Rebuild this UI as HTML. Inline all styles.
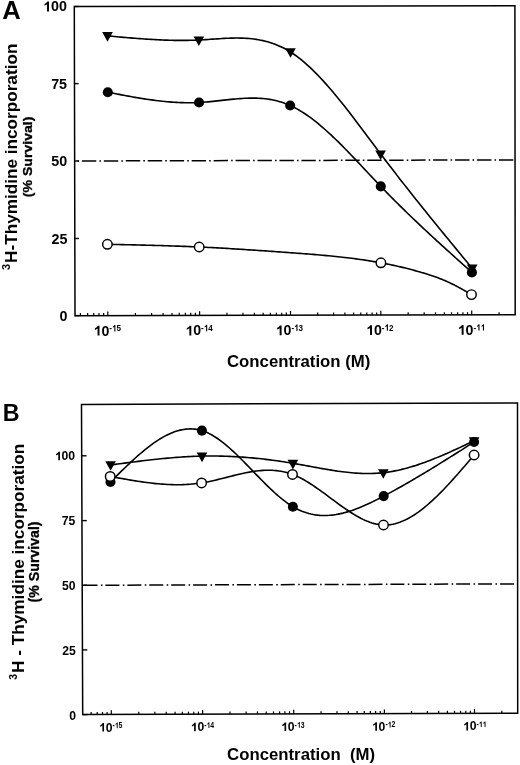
<!DOCTYPE html>
<html><head><meta charset="utf-8"><title>3H-Thymidine incorporation</title>
<style>html,body{margin:0;padding:0;background:#fff;width:520px;height:765px;overflow:hidden}
text{font-family:"Liberation Sans",sans-serif;font-weight:bold;font-kerning:none}
svg{will-change:transform}</style></head>
<body>
<svg width="520" height="765" viewBox="0 0 520 765" style="position:absolute;left:0;top:0;font-family:'Liberation Sans', sans-serif;font-weight:bold;fill:#000">
<rect width="520" height="765" fill="#fff"/>
<path d="M74.3 6.6 L514.9 5.7 L515.2 314.7 L75 315.7 Z" fill="none" stroke="#000" stroke-width="1.5" stroke-linejoin="miter"/>
<line x1="74.3" y1="6.5" x2="78.5" y2="6.5" stroke="#000" stroke-width="1.4"/>
<line x1="74.47" y1="83.6" x2="78.67" y2="83.6" stroke="#000" stroke-width="1.4"/>
<line x1="74.65" y1="161" x2="78.85" y2="161" stroke="#000" stroke-width="1.4"/>
<line x1="74.83" y1="238.5" x2="79.03" y2="238.5" stroke="#000" stroke-width="1.4"/>
<line x1="75" y1="315.6" x2="79.2" y2="315.6" stroke="#000" stroke-width="1.4"/>
<line x1="80.41" y1="315.69" x2="80.41" y2="313.09" stroke="#000" stroke-width="1.2"/>
<line x1="87.62" y1="315.67" x2="87.62" y2="313.07" stroke="#000" stroke-width="1.2"/>
<line x1="93.71" y1="315.66" x2="93.71" y2="313.06" stroke="#000" stroke-width="1.2"/>
<line x1="98.98" y1="315.65" x2="98.98" y2="313.05" stroke="#000" stroke-width="1.2"/>
<line x1="103.64" y1="315.63" x2="103.64" y2="313.03" stroke="#000" stroke-width="1.2"/>
<line x1="107.8" y1="315.63" x2="107.8" y2="311.43" stroke="#000" stroke-width="1.2"/>
<line x1="135.43" y1="315.56" x2="135.43" y2="312.96" stroke="#000" stroke-width="1.2"/>
<line x1="151.6" y1="315.53" x2="151.6" y2="312.93" stroke="#000" stroke-width="1.2"/>
<line x1="163.07" y1="315.5" x2="163.07" y2="312.9" stroke="#000" stroke-width="1.2"/>
<line x1="171.97" y1="315.48" x2="171.97" y2="312.88" stroke="#000" stroke-width="1.2"/>
<line x1="179.23" y1="315.46" x2="179.23" y2="312.86" stroke="#000" stroke-width="1.2"/>
<line x1="185.38" y1="315.45" x2="185.38" y2="312.85" stroke="#000" stroke-width="1.2"/>
<line x1="190.7" y1="315.44" x2="190.7" y2="312.84" stroke="#000" stroke-width="1.2"/>
<line x1="195.4" y1="315.43" x2="195.4" y2="312.83" stroke="#000" stroke-width="1.2"/>
<line x1="199.6" y1="315.42" x2="199.6" y2="311.22" stroke="#000" stroke-width="1.2"/>
<line x1="226.96" y1="315.35" x2="226.96" y2="312.75" stroke="#000" stroke-width="1.2"/>
<line x1="242.97" y1="315.32" x2="242.97" y2="312.72" stroke="#000" stroke-width="1.2"/>
<line x1="254.33" y1="315.29" x2="254.33" y2="312.69" stroke="#000" stroke-width="1.2"/>
<line x1="263.14" y1="315.27" x2="263.14" y2="312.67" stroke="#000" stroke-width="1.2"/>
<line x1="270.33" y1="315.26" x2="270.33" y2="312.66" stroke="#000" stroke-width="1.2"/>
<line x1="276.42" y1="315.24" x2="276.42" y2="312.64" stroke="#000" stroke-width="1.2"/>
<line x1="281.69" y1="315.23" x2="281.69" y2="312.63" stroke="#000" stroke-width="1.2"/>
<line x1="286.34" y1="315.22" x2="286.34" y2="312.62" stroke="#000" stroke-width="1.2"/>
<line x1="290.5" y1="315.21" x2="290.5" y2="311.01" stroke="#000" stroke-width="1.2"/>
<line x1="317.68" y1="315.15" x2="317.68" y2="312.55" stroke="#000" stroke-width="1.2"/>
<line x1="333.58" y1="315.11" x2="333.58" y2="312.51" stroke="#000" stroke-width="1.2"/>
<line x1="344.87" y1="315.09" x2="344.87" y2="312.49" stroke="#000" stroke-width="1.2"/>
<line x1="353.62" y1="315.07" x2="353.62" y2="312.47" stroke="#000" stroke-width="1.2"/>
<line x1="360.77" y1="315.05" x2="360.77" y2="312.45" stroke="#000" stroke-width="1.2"/>
<line x1="366.81" y1="315.04" x2="366.81" y2="312.44" stroke="#000" stroke-width="1.2"/>
<line x1="372.05" y1="315.03" x2="372.05" y2="312.43" stroke="#000" stroke-width="1.2"/>
<line x1="376.67" y1="315.01" x2="376.67" y2="312.41" stroke="#000" stroke-width="1.2"/>
<line x1="380.8" y1="315.01" x2="380.8" y2="310.81" stroke="#000" stroke-width="1.2"/>
<line x1="408.16" y1="314.94" x2="408.16" y2="312.34" stroke="#000" stroke-width="1.2"/>
<line x1="424.17" y1="314.91" x2="424.17" y2="312.31" stroke="#000" stroke-width="1.2"/>
<line x1="435.53" y1="314.88" x2="435.53" y2="312.28" stroke="#000" stroke-width="1.2"/>
<line x1="444.34" y1="314.86" x2="444.34" y2="312.26" stroke="#000" stroke-width="1.2"/>
<line x1="451.53" y1="314.84" x2="451.53" y2="312.24" stroke="#000" stroke-width="1.2"/>
<line x1="457.62" y1="314.83" x2="457.62" y2="312.23" stroke="#000" stroke-width="1.2"/>
<line x1="462.89" y1="314.82" x2="462.89" y2="312.22" stroke="#000" stroke-width="1.2"/>
<line x1="467.54" y1="314.81" x2="467.54" y2="312.21" stroke="#000" stroke-width="1.2"/>
<line x1="471.7" y1="314.8" x2="471.7" y2="310.6" stroke="#000" stroke-width="1.2"/>
<line x1="499.09" y1="314.74" x2="499.09" y2="312.14" stroke="#000" stroke-width="1.2"/>
<line x1="75" y1="161" x2="514.9" y2="159.9" stroke="#000" stroke-width="1.5" stroke-dasharray="14.4 3.1 1.6 2.85" stroke-dashoffset="-6.9"/>
<path d="M107.6 35.9 L109.88 36.11 L112.17 36.32 L114.45 36.53 L116.74 36.73 L119.02 36.94 L121.31 37.14 L123.59 37.34 L125.88 37.54 L128.16 37.73 L130.45 37.92 L132.73 38.11 L135.02 38.29 L137.31 38.47 L139.59 38.64 L141.88 38.81 L144.16 38.97 L146.44 39.13 L148.73 39.27 L151.01 39.41 L153.3 39.55 L155.58 39.67 L157.87 39.79 L160.16 39.9 L162.44 40 L164.72 40.09 L167.01 40.16 L169.3 40.23 L171.58 40.29 L173.87 40.34 L176.15 40.37 L178.44 40.4 L180.72 40.41 L183 40.4 L185.29 40.39 L187.57 40.36 L189.86 40.32 L192.14 40.26 L194.43 40.19 L196.72 40.1 L199 40 L201.29 39.88 L203.57 39.75 L205.86 39.61 L208.15 39.46 L210.44 39.3 L212.72 39.15 L215.01 38.99 L217.3 38.84 L219.59 38.69 L221.88 38.55 L224.16 38.42 L226.45 38.31 L228.74 38.21 L231.03 38.14 L233.31 38.08 L235.6 38.05 L237.89 38.05 L240.18 38.08 L242.46 38.14 L244.75 38.24 L247.04 38.38 L249.32 38.56 L251.61 38.78 L253.9 39.05 L256.19 39.37 L258.48 39.74 L260.76 40.17 L263.05 40.65 L265.34 41.2 L267.62 41.81 L269.91 42.49 L272.2 43.23 L274.49 44.05 L276.77 44.94 L279.06 45.91 L281.35 46.95 L283.64 48.08 L285.93 49.3 L288.21 50.6 L290.5 52 L292.75 53.47 L295.01 55.02 L297.26 56.66 L299.52 58.38 L301.77 60.19 L304.03 62.07 L306.29 64.03 L308.54 66.06 L310.8 68.16 L313.05 70.33 L315.31 72.56 L317.56 74.86 L319.81 77.21 L322.07 79.63 L324.32 82.09 L326.58 84.61 L328.83 87.18 L331.09 89.8 L333.35 92.46 L335.6 95.16 L337.86 97.9 L340.11 100.68 L342.37 103.49 L344.62 106.34 L346.88 109.21 L349.13 112.11 L351.38 115.03 L353.64 117.98 L355.89 120.94 L358.15 123.92 L360.4 126.91 L362.66 129.91 L364.91 132.92 L367.17 135.94 L369.43 138.95 L371.68 141.97 L373.94 144.99 L376.19 148 L378.44 151.01 L380.7 154 L383.04 157.09 L385.38 160.17 L387.72 163.24 L390.05 166.29 L392.39 169.33 L394.73 172.36 L397.07 175.38 L399.41 178.39 L401.75 181.39 L404.08 184.37 L406.42 187.35 L408.76 190.31 L411.1 193.27 L413.44 196.22 L415.78 199.16 L418.12 202.09 L420.45 205.01 L422.79 207.93 L425.13 210.84 L427.47 213.74 L429.81 216.63 L432.15 219.52 L434.48 222.4 L436.82 225.28 L439.16 228.15 L441.5 231.02 L443.84 233.88 L446.18 236.74 L448.52 239.59 L450.85 242.44 L453.19 245.29 L455.53 248.13 L457.87 250.98 L460.21 253.82 L462.55 256.66 L464.88 259.49 L467.22 262.33 L469.56 265.16 L471.9 268" fill="none" stroke="#000" stroke-width="1.6" stroke-linejoin="round"/>
<path d="M107.8 92.2 L110.08 92.64 L112.36 93.09 L114.64 93.53 L116.92 93.97 L119.21 94.41 L121.49 94.84 L123.77 95.27 L126.05 95.7 L128.33 96.12 L130.61 96.53 L132.89 96.94 L135.18 97.34 L137.46 97.73 L139.74 98.11 L142.02 98.48 L144.3 98.84 L146.58 99.19 L148.86 99.53 L151.14 99.85 L153.43 100.16 L155.71 100.46 L157.99 100.74 L160.27 101.01 L162.55 101.26 L164.83 101.49 L167.11 101.71 L169.39 101.91 L171.68 102.09 L173.96 102.25 L176.24 102.38 L178.52 102.5 L180.8 102.6 L183.08 102.67 L185.36 102.72 L187.64 102.75 L189.93 102.75 L192.21 102.73 L194.49 102.68 L196.77 102.6 L199.05 102.5 L201.33 102.37 L203.61 102.21 L205.89 102.03 L208.17 101.84 L210.44 101.62 L212.72 101.39 L215 101.15 L217.28 100.91 L219.56 100.65 L221.84 100.4 L224.12 100.14 L226.4 99.89 L228.67 99.64 L230.95 99.4 L233.23 99.17 L235.51 98.96 L237.79 98.77 L240.07 98.59 L242.35 98.44 L244.62 98.31 L246.9 98.21 L249.18 98.15 L251.46 98.11 L253.74 98.12 L256.02 98.16 L258.3 98.25 L260.58 98.38 L262.86 98.56 L265.13 98.79 L267.41 99.07 L269.69 99.41 L271.97 99.81 L274.25 100.28 L276.53 100.8 L278.81 101.4 L281.08 102.07 L283.36 102.81 L285.64 103.63 L287.92 104.52 L290.2 105.5 L292.46 106.56 L294.73 107.69 L297 108.91 L299.26 110.2 L301.52 111.57 L303.79 113.01 L306.06 114.51 L308.32 116.09 L310.58 117.72 L312.85 119.42 L315.12 121.18 L317.38 122.99 L319.64 124.86 L321.91 126.77 L324.18 128.74 L326.44 130.75 L328.7 132.81 L330.97 134.91 L333.24 137.05 L335.5 139.22 L337.76 141.42 L340.03 143.66 L342.3 145.93 L344.56 148.22 L346.82 150.54 L349.09 152.87 L351.36 155.23 L353.62 157.6 L355.88 159.99 L358.15 162.38 L360.42 164.79 L362.68 167.2 L364.94 169.61 L367.21 172.03 L369.48 174.44 L371.74 176.85 L374 179.25 L376.27 181.65 L378.54 184.03 L380.8 186.4 L383.14 188.83 L385.47 191.23 L387.81 193.63 L390.14 196 L392.48 198.36 L394.82 200.71 L397.15 203.04 L399.49 205.35 L401.82 207.65 L404.16 209.94 L406.49 212.21 L408.83 214.47 L411.17 216.72 L413.5 218.96 L415.84 221.19 L418.17 223.4 L420.51 225.61 L422.85 227.8 L425.18 229.99 L427.52 232.16 L429.85 234.33 L432.19 236.49 L434.53 238.64 L436.86 240.79 L439.2 242.93 L441.53 245.06 L443.87 247.18 L446.21 249.31 L448.54 251.42 L450.88 253.53 L453.21 255.64 L455.55 257.74 L457.88 259.84 L460.22 261.94 L462.56 264.03 L464.89 266.13 L467.23 268.22 L469.56 270.31 L471.9 272.4" fill="none" stroke="#000" stroke-width="1.6" stroke-linejoin="round"/>
<path d="M107.4 244.3 L109.7 244.35 L111.99 244.4 L114.28 244.45 L116.58 244.5 L118.88 244.55 L121.17 244.6 L123.47 244.65 L125.76 244.7 L128.06 244.75 L130.35 244.8 L132.65 244.86 L134.94 244.91 L137.24 244.96 L139.53 245.02 L141.82 245.08 L144.12 245.13 L146.41 245.19 L148.71 245.25 L151 245.31 L153.3 245.37 L155.59 245.44 L157.89 245.5 L160.19 245.57 L162.48 245.64 L164.77 245.71 L167.07 245.78 L169.37 245.85 L171.66 245.93 L173.95 246 L176.25 246.08 L178.54 246.17 L180.84 246.25 L183.13 246.33 L185.43 246.42 L187.72 246.51 L190.02 246.6 L192.31 246.7 L194.61 246.8 L196.9 246.9 L199.2 247 L201.48 247.1 L203.76 247.21 L206.04 247.32 L208.32 247.44 L210.6 247.55 L212.88 247.67 L215.16 247.79 L217.44 247.91 L219.72 248.04 L222 248.16 L224.28 248.29 L226.56 248.42 L228.84 248.56 L231.12 248.69 L233.4 248.83 L235.68 248.97 L237.96 249.11 L240.24 249.25 L242.52 249.39 L244.8 249.54 L247.08 249.69 L249.36 249.83 L251.64 249.98 L253.92 250.14 L256.2 250.29 L258.48 250.44 L260.76 250.6 L263.04 250.75 L265.32 250.91 L267.6 251.07 L269.88 251.23 L272.16 251.39 L274.44 251.55 L276.72 251.71 L279 251.88 L281.28 252.04 L283.56 252.2 L285.84 252.37 L288.12 252.53 L290.4 252.7 L292.66 252.86 L294.92 253.03 L297.19 253.2 L299.45 253.37 L301.71 253.53 L303.97 253.71 L306.24 253.88 L308.5 254.06 L310.76 254.23 L313.02 254.42 L315.29 254.6 L317.55 254.79 L319.81 254.98 L322.07 255.18 L324.34 255.38 L326.6 255.59 L328.86 255.8 L331.12 256.02 L333.39 256.24 L335.65 256.47 L337.91 256.71 L340.17 256.95 L342.44 257.2 L344.7 257.46 L346.96 257.72 L349.22 257.99 L351.49 258.27 L353.75 258.56 L356.01 258.86 L358.27 259.17 L360.54 259.48 L362.8 259.81 L365.06 260.14 L367.32 260.49 L369.59 260.85 L371.85 261.21 L374.11 261.59 L376.38 261.98 L378.64 262.39 L380.9 262.8 L381.88 262.98 L382.85 263.17 L383.83 263.36 L384.81 263.54 L385.79 263.74 L386.76 263.93 L387.74 264.13 L388.72 264.33 L389.7 264.53 L390.67 264.73 L391.65 264.94 L392.63 265.15 L393.61 265.36 L394.58 265.57 L395.56 265.79 L396.54 266.01 L397.52 266.23 L398.5 266.45 L399.47 266.68 L400.45 266.9 L401.43 267.14 L402.4 267.37 L403.38 267.6 L404.36 267.84 L405.34 268.08 L406.31 268.33 L407.29 268.57 L408.27 268.82 L409.25 269.07 L410.23 269.32 L411.2 269.58 L412.18 269.84 L413.16 270.1 L414.13 270.36 L415.11 270.63 L416.09 270.9 L417.07 271.17 L418.05 271.44 L419.02 271.72 L420 272 L420.75 272.22 L421.5 272.43 L422.25 272.65 L423 272.87 L423.75 273.1 L424.5 273.32 L425.25 273.55 L426 273.78 L426.75 274.01 L427.5 274.25 L428.25 274.48 L429 274.72 L429.75 274.97 L430.5 275.21 L431.25 275.46 L432 275.71 L432.75 275.96 L433.5 276.22 L434.25 276.48 L435 276.75 L435.75 277.02 L436.5 277.29 L437.25 277.56 L438 277.84 L438.75 278.12 L439.5 278.41 L440.25 278.7 L441 279 L441.75 279.3 L442.5 279.6 L443.25 279.91 L444 280.22 L444.75 280.54 L445.5 280.86 L446.25 281.19 L447 281.52 L447.75 281.86 L448.5 282.2 L449.25 282.55 L450 282.9 L450.55 283.16 L451.1 283.43 L451.65 283.7 L452.21 283.97 L452.76 284.24 L453.31 284.52 L453.86 284.8 L454.41 285.08 L454.96 285.36 L455.51 285.65 L456.06 285.94 L456.62 286.23 L457.17 286.52 L457.72 286.82 L458.27 287.11 L458.82 287.41 L459.37 287.71 L459.92 288.01 L460.47 288.32 L461.03 288.62 L461.58 288.93 L462.13 289.24 L462.68 289.54 L463.23 289.85 L463.78 290.17 L464.33 290.48 L464.88 290.79 L465.44 291.11 L465.99 291.42 L466.54 291.74 L467.09 292.05 L467.64 292.37 L468.19 292.69 L468.74 293.01 L469.29 293.32 L469.85 293.64 L470.4 293.96 L470.95 294.28 L471.5 294.6" fill="none" stroke="#000" stroke-width="1.6" stroke-linejoin="round"/>
<path d="M102.2 32.1 L112.8 32.1 L107.5 41.7 Z" fill="#000"/>
<path d="M193.55 36.4 L204.15 36.4 L198.85 46 Z" fill="#000"/>
<path d="M285.2 48.2 L295.8 48.2 L290.5 57.8 Z" fill="#000"/>
<path d="M375.3 150.4 L385.9 150.4 L380.6 160 Z" fill="#000"/>
<path d="M466.9 264.4 L477.5 264.4 L472.2 274 Z" fill="#000"/>
<circle cx="107.8" cy="92.2" r="5.05" fill="#000"/>
<circle cx="199.05" cy="102.5" r="5.05" fill="#000"/>
<circle cx="290.2" cy="105.5" r="5.05" fill="#000"/>
<circle cx="380.8" cy="186.4" r="5.05" fill="#000"/>
<circle cx="471.9" cy="272.4" r="5.05" fill="#000"/>
<circle cx="107.4" cy="244.3" r="4.75" fill="#fff" stroke="#000" stroke-width="1.45"/>
<circle cx="199.2" cy="247" r="4.75" fill="#fff" stroke="#000" stroke-width="1.45"/>
<circle cx="380.9" cy="262.8" r="4.75" fill="#fff" stroke="#000" stroke-width="1.45"/>
<circle cx="471.5" cy="294.6" r="4.75" fill="#fff" stroke="#000" stroke-width="1.45"/>
<path d="M81.5 404.4 L517.5 403 L517.7 713.2 L82.7 714.6 Z" fill="none" stroke="#000" stroke-width="1.5" stroke-linejoin="miter"/>
<line x1="81.7" y1="455.8" x2="86.5" y2="455.8" stroke="#000" stroke-width="1.4"/>
<line x1="81.95" y1="520.6" x2="86.75" y2="520.6" stroke="#000" stroke-width="1.4"/>
<line x1="82.2" y1="585.3" x2="87" y2="585.3" stroke="#000" stroke-width="1.4"/>
<line x1="82.45" y1="649.9" x2="87.25" y2="649.9" stroke="#000" stroke-width="1.4"/>
<line x1="82.7" y1="714.6" x2="87.5" y2="714.6" stroke="#000" stroke-width="1.4"/>
<line x1="91.16" y1="714.57" x2="91.16" y2="711.97" stroke="#000" stroke-width="1.2"/>
<line x1="97.23" y1="714.55" x2="97.23" y2="711.95" stroke="#000" stroke-width="1.2"/>
<line x1="102.5" y1="714.54" x2="102.5" y2="711.94" stroke="#000" stroke-width="1.2"/>
<line x1="107.15" y1="714.52" x2="107.15" y2="711.92" stroke="#000" stroke-width="1.2"/>
<line x1="111.3" y1="714.51" x2="111.3" y2="710.31" stroke="#000" stroke-width="1.2"/>
<line x1="138.78" y1="714.42" x2="138.78" y2="711.82" stroke="#000" stroke-width="1.2"/>
<line x1="154.86" y1="714.37" x2="154.86" y2="711.77" stroke="#000" stroke-width="1.2"/>
<line x1="166.27" y1="714.33" x2="166.27" y2="711.73" stroke="#000" stroke-width="1.2"/>
<line x1="175.12" y1="714.3" x2="175.12" y2="711.7" stroke="#000" stroke-width="1.2"/>
<line x1="182.35" y1="714.28" x2="182.35" y2="711.68" stroke="#000" stroke-width="1.2"/>
<line x1="188.46" y1="714.26" x2="188.46" y2="711.66" stroke="#000" stroke-width="1.2"/>
<line x1="193.75" y1="714.24" x2="193.75" y2="711.64" stroke="#000" stroke-width="1.2"/>
<line x1="198.42" y1="714.23" x2="198.42" y2="711.63" stroke="#000" stroke-width="1.2"/>
<line x1="202.6" y1="714.21" x2="202.6" y2="710.01" stroke="#000" stroke-width="1.2"/>
<line x1="230.02" y1="714.13" x2="230.02" y2="711.53" stroke="#000" stroke-width="1.2"/>
<line x1="246.07" y1="714.07" x2="246.07" y2="711.47" stroke="#000" stroke-width="1.2"/>
<line x1="257.45" y1="714.04" x2="257.45" y2="711.44" stroke="#000" stroke-width="1.2"/>
<line x1="266.28" y1="714.01" x2="266.28" y2="711.41" stroke="#000" stroke-width="1.2"/>
<line x1="273.49" y1="713.99" x2="273.49" y2="711.39" stroke="#000" stroke-width="1.2"/>
<line x1="279.59" y1="713.97" x2="279.59" y2="711.37" stroke="#000" stroke-width="1.2"/>
<line x1="284.87" y1="713.95" x2="284.87" y2="711.35" stroke="#000" stroke-width="1.2"/>
<line x1="289.53" y1="713.93" x2="289.53" y2="711.33" stroke="#000" stroke-width="1.2"/>
<line x1="293.7" y1="713.92" x2="293.7" y2="709.72" stroke="#000" stroke-width="1.2"/>
<line x1="321" y1="713.83" x2="321" y2="711.23" stroke="#000" stroke-width="1.2"/>
<line x1="336.97" y1="713.78" x2="336.97" y2="711.18" stroke="#000" stroke-width="1.2"/>
<line x1="348.31" y1="713.75" x2="348.31" y2="711.15" stroke="#000" stroke-width="1.2"/>
<line x1="357.1" y1="713.72" x2="357.1" y2="711.12" stroke="#000" stroke-width="1.2"/>
<line x1="364.28" y1="713.69" x2="364.28" y2="711.09" stroke="#000" stroke-width="1.2"/>
<line x1="370.35" y1="713.67" x2="370.35" y2="711.07" stroke="#000" stroke-width="1.2"/>
<line x1="375.61" y1="713.66" x2="375.61" y2="711.06" stroke="#000" stroke-width="1.2"/>
<line x1="380.25" y1="713.64" x2="380.25" y2="711.04" stroke="#000" stroke-width="1.2"/>
<line x1="384.4" y1="713.63" x2="384.4" y2="709.43" stroke="#000" stroke-width="1.2"/>
<line x1="411.52" y1="713.54" x2="411.52" y2="710.94" stroke="#000" stroke-width="1.2"/>
<line x1="427.39" y1="713.49" x2="427.39" y2="710.89" stroke="#000" stroke-width="1.2"/>
<line x1="438.65" y1="713.45" x2="438.65" y2="710.85" stroke="#000" stroke-width="1.2"/>
<line x1="447.38" y1="713.43" x2="447.38" y2="710.83" stroke="#000" stroke-width="1.2"/>
<line x1="454.51" y1="713.4" x2="454.51" y2="710.8" stroke="#000" stroke-width="1.2"/>
<line x1="460.54" y1="713.38" x2="460.54" y2="710.78" stroke="#000" stroke-width="1.2"/>
<line x1="465.77" y1="713.37" x2="465.77" y2="710.77" stroke="#000" stroke-width="1.2"/>
<line x1="470.38" y1="713.35" x2="470.38" y2="710.75" stroke="#000" stroke-width="1.2"/>
<line x1="474.5" y1="713.34" x2="474.5" y2="709.14" stroke="#000" stroke-width="1.2"/>
<line x1="501.83" y1="713.25" x2="501.83" y2="710.65" stroke="#000" stroke-width="1.2"/>
<line x1="82.5" y1="585.3" x2="517.5" y2="583.9" stroke="#000" stroke-width="1.5" stroke-dasharray="14.0 3.4 1.6 2.92" stroke-dashoffset="-1"/>
<path d="M110.6 465 L112.88 464.69 L115.17 464.38 L117.45 464.08 L119.74 463.77 L122.02 463.47 L124.31 463.16 L126.59 462.86 L128.88 462.56 L131.16 462.27 L133.45 461.97 L135.73 461.68 L138.02 461.39 L140.31 461.11 L142.59 460.83 L144.88 460.56 L147.16 460.29 L149.44 460.02 L151.73 459.77 L154.01 459.51 L156.3 459.26 L158.58 459.02 L160.87 458.79 L163.16 458.56 L165.44 458.34 L167.72 458.13 L170.01 457.93 L172.3 457.73 L174.58 457.55 L176.87 457.37 L179.15 457.2 L181.44 457.04 L183.72 456.89 L186 456.75 L188.29 456.63 L190.57 456.51 L192.86 456.4 L195.14 456.31 L197.43 456.23 L199.72 456.16 L202 456.1 L204.27 456.06 L206.54 456.02 L208.82 456 L211.09 456 L213.36 456 L215.63 456.02 L217.91 456.05 L220.18 456.09 L222.45 456.15 L224.72 456.21 L227 456.29 L229.27 456.38 L231.54 456.48 L233.81 456.59 L236.09 456.72 L238.36 456.85 L240.63 457 L242.91 457.16 L245.18 457.33 L247.45 457.51 L249.72 457.7 L252 457.9 L254.27 458.11 L256.54 458.34 L258.81 458.57 L261.08 458.82 L263.36 459.07 L265.63 459.34 L267.9 459.61 L270.17 459.9 L272.45 460.2 L274.72 460.5 L276.99 460.82 L279.26 461.14 L281.54 461.48 L283.81 461.82 L286.08 462.18 L288.35 462.54 L290.63 462.92 L292.9 463.3 L295.16 463.69 L297.42 464.09 L299.68 464.49 L301.94 464.9 L304.2 465.31 L306.46 465.73 L308.72 466.15 L310.98 466.57 L313.24 466.99 L315.5 467.4 L317.76 467.81 L320.02 468.22 L322.28 468.62 L324.54 469.02 L326.8 469.4 L329.06 469.78 L331.32 470.15 L333.58 470.5 L335.84 470.84 L338.1 471.17 L340.36 471.48 L342.62 471.77 L344.88 472.04 L347.14 472.3 L349.4 472.53 L351.66 472.75 L353.92 472.93 L356.18 473.1 L358.44 473.24 L360.7 473.35 L362.96 473.43 L365.22 473.49 L367.48 473.51 L369.74 473.5 L372 473.46 L374.26 473.38 L376.52 473.27 L378.78 473.12 L381.04 472.93 L383.3 472.7 L385.63 472.42 L387.96 472.1 L390.28 471.74 L392.61 471.34 L394.94 470.91 L397.27 470.43 L399.6 469.92 L401.93 469.37 L404.25 468.78 L406.58 468.17 L408.91 467.52 L411.24 466.84 L413.57 466.13 L415.89 465.39 L418.22 464.62 L420.55 463.83 L422.88 463.01 L425.21 462.17 L427.54 461.3 L429.86 460.42 L432.19 459.51 L434.52 458.58 L436.85 457.63 L439.18 456.66 L441.51 455.68 L443.83 454.68 L446.16 453.67 L448.49 452.65 L450.82 451.61 L453.15 450.56 L455.47 449.5 L457.8 448.43 L460.13 447.36 L462.46 446.27 L464.79 445.19 L467.12 444.09 L469.44 443 L471.77 441.9 L474.1 440.8" fill="none" stroke="#000" stroke-width="1.6" stroke-linejoin="round"/>
<path d="M110.5 482 L112.78 479.72 L115.07 477.45 L117.36 475.18 L119.64 472.92 L121.92 470.68 L124.21 468.46 L126.5 466.26 L128.78 464.08 L131.06 461.94 L133.35 459.83 L135.63 457.76 L137.92 455.72 L140.21 453.74 L142.49 451.8 L144.78 449.91 L147.06 448.08 L149.34 446.31 L151.63 444.6 L153.92 442.96 L156.2 441.39 L158.49 439.89 L160.77 438.47 L163.06 437.14 L165.34 435.89 L167.62 434.73 L169.91 433.66 L172.19 432.69 L174.48 431.82 L176.76 431.06 L179.05 430.4 L181.34 429.86 L183.62 429.43 L185.91 429.12 L188.19 428.93 L190.48 428.87 L192.76 428.94 L195.05 429.14 L197.33 429.49 L199.62 429.97 L201.9 430.6 L204.18 431.37 L206.45 432.29 L208.72 433.34 L211 434.51 L213.28 435.81 L215.55 437.23 L217.82 438.75 L220.1 440.37 L222.38 442.09 L224.65 443.9 L226.93 445.79 L229.2 447.75 L231.47 449.78 L233.75 451.88 L236.03 454.03 L238.3 456.23 L240.57 458.48 L242.85 460.76 L245.12 463.07 L247.4 465.4 L249.68 467.75 L251.95 470.1 L254.22 472.46 L256.5 474.82 L258.77 477.17 L261.05 479.5 L263.32 481.81 L265.6 484.08 L267.88 486.33 L270.15 488.52 L272.42 490.67 L274.7 492.77 L276.98 494.8 L279.25 496.76 L281.52 498.64 L283.8 500.44 L286.07 502.16 L288.35 503.78 L290.62 505.29 L292.9 506.7 L295.17 507.99 L297.44 509.17 L299.71 510.24 L301.98 511.2 L304.25 512.06 L306.52 512.81 L308.79 513.47 L311.06 514.03 L313.33 514.49 L315.6 514.86 L317.87 515.15 L320.14 515.35 L322.41 515.46 L324.68 515.49 L326.95 515.44 L329.22 515.32 L331.49 515.12 L333.76 514.85 L336.03 514.52 L338.3 514.11 L340.57 513.65 L342.84 513.12 L345.11 512.53 L347.38 511.89 L349.65 511.19 L351.92 510.45 L354.19 509.65 L356.46 508.81 L358.73 507.93 L361 507 L363.27 506.04 L365.54 505.04 L367.81 504.01 L370.08 502.95 L372.35 501.87 L374.62 500.75 L376.89 499.62 L379.16 498.46 L381.43 497.29 L383.7 496.1 L386.02 494.87 L388.34 493.63 L390.65 492.38 L392.97 491.12 L395.29 489.85 L397.61 488.56 L399.93 487.26 L402.24 485.96 L404.56 484.64 L406.88 483.31 L409.2 481.98 L411.52 480.63 L413.83 479.27 L416.15 477.91 L418.47 476.54 L420.79 475.16 L423.11 473.77 L425.42 472.38 L427.74 470.98 L430.06 469.57 L432.38 468.15 L434.69 466.73 L437.01 465.31 L439.33 463.88 L441.65 462.44 L443.97 461 L446.28 459.55 L448.6 458.11 L450.92 456.65 L453.24 455.2 L455.56 453.74 L457.87 452.28 L460.19 450.81 L462.51 449.35 L464.83 447.88 L467.15 446.41 L469.46 444.94 L471.78 443.47 L474.1 442" fill="none" stroke="#000" stroke-width="1.6" stroke-linejoin="round"/>
<path d="M110.2 476.4 L112.48 476.82 L114.77 477.25 L117.06 477.67 L119.34 478.09 L121.62 478.5 L123.91 478.91 L126.19 479.31 L128.48 479.71 L130.76 480.1 L133.05 480.48 L135.34 480.85 L137.62 481.21 L139.91 481.56 L142.19 481.89 L144.47 482.21 L146.76 482.52 L149.04 482.81 L151.33 483.08 L153.62 483.34 L155.9 483.58 L158.19 483.79 L160.47 483.99 L162.75 484.17 L165.04 484.32 L167.32 484.45 L169.61 484.55 L171.89 484.63 L174.18 484.69 L176.46 484.71 L178.75 484.71 L181.03 484.68 L183.32 484.61 L185.6 484.52 L187.89 484.39 L190.18 484.23 L192.46 484.04 L194.75 483.81 L197.03 483.54 L199.31 483.24 L201.6 482.9 L203.87 482.52 L206.14 482.11 L208.42 481.66 L210.69 481.19 L212.96 480.69 L215.23 480.17 L217.51 479.63 L219.78 479.08 L222.05 478.52 L224.32 477.95 L226.6 477.37 L228.87 476.79 L231.14 476.22 L233.41 475.65 L235.69 475.09 L237.96 474.55 L240.23 474.02 L242.5 473.51 L244.78 473.03 L247.05 472.57 L249.32 472.14 L251.59 471.75 L253.87 471.39 L256.14 471.08 L258.41 470.81 L260.69 470.58 L262.96 470.41 L265.23 470.29 L267.5 470.23 L269.77 470.23 L272.05 470.3 L274.32 470.44 L276.59 470.64 L278.87 470.93 L281.14 471.29 L283.41 471.73 L285.68 472.26 L287.95 472.88 L290.23 473.59 L292.5 474.4 L294.77 475.31 L297.05 476.31 L299.32 477.4 L301.6 478.57 L303.88 479.81 L306.15 481.13 L308.43 482.51 L310.7 483.95 L312.98 485.44 L315.25 486.98 L317.52 488.55 L319.8 490.17 L322.07 491.81 L324.35 493.47 L326.62 495.15 L328.9 496.84 L331.18 498.53 L333.45 500.22 L335.73 501.91 L338 503.58 L340.27 505.23 L342.55 506.86 L344.82 508.45 L347.1 510.01 L349.38 511.52 L351.65 512.99 L353.93 514.4 L356.2 515.75 L358.48 517.03 L360.75 518.24 L363.02 519.37 L365.3 520.41 L367.57 521.37 L369.85 522.23 L372.12 522.98 L374.4 523.63 L376.68 524.16 L378.95 524.57 L381.23 524.85 L383.5 525 L385.82 525.01 L388.15 524.88 L390.47 524.62 L392.79 524.22 L395.12 523.69 L397.44 523.04 L399.76 522.26 L402.08 521.36 L404.41 520.35 L406.73 519.23 L409.05 518 L411.38 516.67 L413.7 515.24 L416.02 513.71 L418.35 512.09 L420.67 510.38 L422.99 508.58 L425.32 506.7 L427.64 504.75 L429.96 502.72 L432.28 500.62 L434.61 498.45 L436.93 496.22 L439.25 493.93 L441.58 491.59 L443.9 489.19 L446.22 486.75 L448.55 484.26 L450.87 481.73 L453.19 479.16 L455.52 476.56 L457.84 473.93 L460.16 471.27 L462.48 468.59 L464.81 465.9 L467.13 463.19 L469.45 460.46 L471.78 457.73 L474.1 455" fill="none" stroke="#000" stroke-width="1.6" stroke-linejoin="round"/>
<path d="M105.3 461.2 L115.9 461.2 L110.6 470.8 Z" fill="#000"/>
<path d="M196.7 452.6 L207.3 452.6 L202 462.2 Z" fill="#000"/>
<path d="M287.6 459.8 L298.2 459.8 L292.9 469.4 Z" fill="#000"/>
<path d="M378 469.2 L388.6 469.2 L383.3 478.8 Z" fill="#000"/>
<path d="M468.8 437.2 L479.4 437.2 L474.1 446.8 Z" fill="#000"/>
<circle cx="110.5" cy="482" r="5.05" fill="#000"/>
<circle cx="201.9" cy="430.6" r="5.05" fill="#000"/>
<circle cx="292.9" cy="506.7" r="5.05" fill="#000"/>
<circle cx="383.7" cy="496.1" r="5.05" fill="#000"/>
<circle cx="474.1" cy="442" r="5.05" fill="#000"/>
<circle cx="110.2" cy="476.4" r="4.75" fill="#fff" stroke="#000" stroke-width="1.45"/>
<circle cx="201.6" cy="482.9" r="4.75" fill="#fff" stroke="#000" stroke-width="1.45"/>
<circle cx="292.5" cy="474.4" r="4.75" fill="#fff" stroke="#000" stroke-width="1.45"/>
<circle cx="383.5" cy="525" r="4.75" fill="#fff" stroke="#000" stroke-width="1.45"/>
<circle cx="474.1" cy="455" r="4.75" fill="#fff" stroke="#000" stroke-width="1.45"/>
<text x="2.26" y="18.8" font-size="25.6" text-anchor="start" >A</text>
<text x="43" y="11.4" font-size="14.3"> 00</text>
<path d="M860 0L580 0L580 1018Q428 876 212 813L212 1058Q318 1093 442 1189Q566 1285 615 1409L860 1409Z" transform="translate(43 11.4) scale(0.006982 -0.006982)"/>
<text x="51.13" y="88.6" font-size="14.3">75</text>
<text x="51.31" y="165.9" font-size="14.3">50</text>
<text x="51.48" y="243.5" font-size="14.3">25</text>
<text x="59.62" y="320.9" font-size="14.3">0</text>
<text x="93.53" y="335.6" font-size="14.2"> 0</text>
<path d="M860 0L580 0L580 1018Q428 876 212 813L212 1058Q318 1093 442 1189Q566 1285 615 1409L860 1409Z" transform="translate(93.53 335.6) scale(0.006934 -0.006934)"/>
<text x="109.32" y="331.4" font-size="9.4" textLength="11.68" lengthAdjust="spacingAndGlyphs">- 5</text>
<path d="M860 0L580 0L580 1018Q428 876 212 813L212 1058Q318 1093 442 1189Q566 1285 615 1409L860 1409Z" transform="translate(112.02 331.4) scale(0.003947 -0.004590)"/>
<text x="185.33" y="335.4" font-size="14.2"> 0</text>
<path d="M860 0L580 0L580 1018Q428 876 212 813L212 1058Q318 1093 442 1189Q566 1285 615 1409L860 1409Z" transform="translate(185.33 335.4) scale(0.006934 -0.006934)"/>
<text x="201.12" y="331.2" font-size="9.4" textLength="11.68" lengthAdjust="spacingAndGlyphs">- 4</text>
<path d="M860 0L580 0L580 1018Q428 876 212 813L212 1058Q318 1093 442 1189Q566 1285 615 1409L860 1409Z" transform="translate(203.82 331.2) scale(0.003947 -0.004590)"/>
<text x="275.63" y="335.2" font-size="14.2"> 0</text>
<path d="M860 0L580 0L580 1018Q428 876 212 813L212 1058Q318 1093 442 1189Q566 1285 615 1409L860 1409Z" transform="translate(275.63 335.2) scale(0.006934 -0.006934)"/>
<text x="291.42" y="331" font-size="9.4" textLength="11.68" lengthAdjust="spacingAndGlyphs">- 3</text>
<path d="M860 0L580 0L580 1018Q428 876 212 813L212 1058Q318 1093 442 1189Q566 1285 615 1409L860 1409Z" transform="translate(294.12 331) scale(0.003947 -0.004590)"/>
<text x="366.03" y="335" font-size="14.2"> 0</text>
<path d="M860 0L580 0L580 1018Q428 876 212 813L212 1058Q318 1093 442 1189Q566 1285 615 1409L860 1409Z" transform="translate(366.03 335) scale(0.006934 -0.006934)"/>
<text x="381.82" y="330.8" font-size="9.4" textLength="11.68" lengthAdjust="spacingAndGlyphs">- 2</text>
<path d="M860 0L580 0L580 1018Q428 876 212 813L212 1058Q318 1093 442 1189Q566 1285 615 1409L860 1409Z" transform="translate(384.52 330.8) scale(0.003947 -0.004590)"/>
<text x="457.63" y="334.8" font-size="14.2"> 0</text>
<path d="M860 0L580 0L580 1018Q428 876 212 813L212 1058Q318 1093 442 1189Q566 1285 615 1409L860 1409Z" transform="translate(457.63 334.8) scale(0.006934 -0.006934)"/>
<text x="473.42" y="330.6" font-size="9.4" textLength="11.68" lengthAdjust="spacingAndGlyphs">-  </text>
<path d="M860 0L580 0L580 1018Q428 876 212 813L212 1058Q318 1093 442 1189Q566 1285 615 1409L860 1409Z" transform="translate(476.12 330.6) scale(0.003947 -0.004590)"/>
<path d="M860 0L580 0L580 1018Q428 876 212 813L212 1058Q318 1093 442 1189Q566 1285 615 1409L860 1409Z" transform="translate(480.61 330.6) scale(0.003947 -0.004590)"/>
<text x="227.01" y="367.3" font-size="16.75" text-anchor="start" >Concentration (M)</text>
<text transform="translate(17.3 262.95) rotate(-90)" x="0" y="0" font-size="17.2" textLength="219.32" lengthAdjust="spacingAndGlyphs" >H-Thymidine incorporation</text>
<text transform="translate(10.3 270.05) rotate(-90)" x="0" y="0" font-size="11" >3</text>
<text transform="translate(31.6 197.18) rotate(-90)" x="0" y="0" font-size="13.5" textLength="80.65" lengthAdjust="spacingAndGlyphs" stroke="#000" stroke-width="0.3">(% Survival)</text>
<text x="2.64" y="421.2" font-size="24.8" text-anchor="start" textLength="16.84" lengthAdjust="spacingAndGlyphs">B</text>
<text x="54.82" y="460.2" font-size="12.2"> 00</text>
<path d="M860 0L580 0L580 1018Q428 876 212 813L212 1058Q318 1093 442 1189Q566 1285 615 1409L860 1409Z" transform="translate(54.82 460.2) scale(0.005957 -0.005957)"/>
<text x="61.82" y="525.2" font-size="12.2">75</text>
<text x="62.05" y="590.2" font-size="12.2">50</text>
<text x="62.26" y="654.6" font-size="12.2">25</text>
<text x="69.27" y="719.6" font-size="12.2">0</text>
<text x="98.94" y="731.5" font-size="12.2"> 0</text>
<path d="M860 0L580 0L580 1018Q428 876 212 813L212 1058Q318 1093 442 1189Q566 1285 615 1409L860 1409Z" transform="translate(98.94 731.5) scale(0.005957 -0.005957)"/>
<text x="112.51" y="728.2" font-size="8.2" textLength="9.96" lengthAdjust="spacingAndGlyphs">- 5</text>
<path d="M860 0L580 0L580 1018Q428 876 212 813L212 1058Q318 1093 442 1189Q566 1285 615 1409L860 1409Z" transform="translate(114.8 728.2) scale(0.003363 -0.004004)"/>
<text x="190.64" y="731.22" font-size="12.2"> 0</text>
<path d="M860 0L580 0L580 1018Q428 876 212 813L212 1058Q318 1093 442 1189Q566 1285 615 1409L860 1409Z" transform="translate(190.64 731.22) scale(0.005957 -0.005957)"/>
<text x="204.21" y="727.92" font-size="8.2" textLength="9.96" lengthAdjust="spacingAndGlyphs">- 4</text>
<path d="M860 0L580 0L580 1018Q428 876 212 813L212 1058Q318 1093 442 1189Q566 1285 615 1409L860 1409Z" transform="translate(206.5 727.92) scale(0.003363 -0.004004)"/>
<text x="281.04" y="730.95" font-size="12.2"> 0</text>
<path d="M860 0L580 0L580 1018Q428 876 212 813L212 1058Q318 1093 442 1189Q566 1285 615 1409L860 1409Z" transform="translate(281.04 730.95) scale(0.005957 -0.005957)"/>
<text x="294.61" y="727.65" font-size="8.2" textLength="9.96" lengthAdjust="spacingAndGlyphs">- 3</text>
<path d="M860 0L580 0L580 1018Q428 876 212 813L212 1058Q318 1093 442 1189Q566 1285 615 1409L860 1409Z" transform="translate(296.9 727.65) scale(0.003363 -0.004004)"/>
<text x="371.84" y="730.68" font-size="12.2"> 0</text>
<path d="M860 0L580 0L580 1018Q428 876 212 813L212 1058Q318 1093 442 1189Q566 1285 615 1409L860 1409Z" transform="translate(371.84 730.68) scale(0.005957 -0.005957)"/>
<text x="385.41" y="727.38" font-size="8.2" textLength="9.96" lengthAdjust="spacingAndGlyphs">- 2</text>
<path d="M860 0L580 0L580 1018Q428 876 212 813L212 1058Q318 1093 442 1189Q566 1285 615 1409L860 1409Z" transform="translate(387.7 727.38) scale(0.003363 -0.004004)"/>
<text x="462.94" y="730.41" font-size="12.2"> 0</text>
<path d="M860 0L580 0L580 1018Q428 876 212 813L212 1058Q318 1093 442 1189Q566 1285 615 1409L860 1409Z" transform="translate(462.94 730.41) scale(0.005957 -0.005957)"/>
<text x="476.51" y="727.11" font-size="8.2" textLength="9.96" lengthAdjust="spacingAndGlyphs">-  </text>
<path d="M860 0L580 0L580 1018Q428 876 212 813L212 1058Q318 1093 442 1189Q566 1285 615 1409L860 1409Z" transform="translate(478.8 727.11) scale(0.003363 -0.004004)"/>
<path d="M860 0L580 0L580 1018Q428 876 212 813L212 1058Q318 1093 442 1189Q566 1285 615 1409L860 1409Z" transform="translate(482.63 727.11) scale(0.003363 -0.004004)"/>
<text x="227.11" y="759.8" font-size="16.75" text-anchor="start" xml:space="preserve">Concentration  (M)</text>
<text transform="translate(23.5 672.95) rotate(-90)" x="0" y="0" font-size="17.2" textLength="229.31" lengthAdjust="spacingAndGlyphs" xml:space="preserve">H - Thymidine incorporation</text>
<text transform="translate(16.5 679.64) rotate(-90)" x="0" y="0" font-size="10.5" >3</text>
<text transform="translate(38.7 602.4) rotate(-90)" x="0" y="0" font-size="13.9" textLength="80.99" lengthAdjust="spacingAndGlyphs" stroke="#000" stroke-width="0.3">(% Survival)</text>
</svg>
</body></html>
